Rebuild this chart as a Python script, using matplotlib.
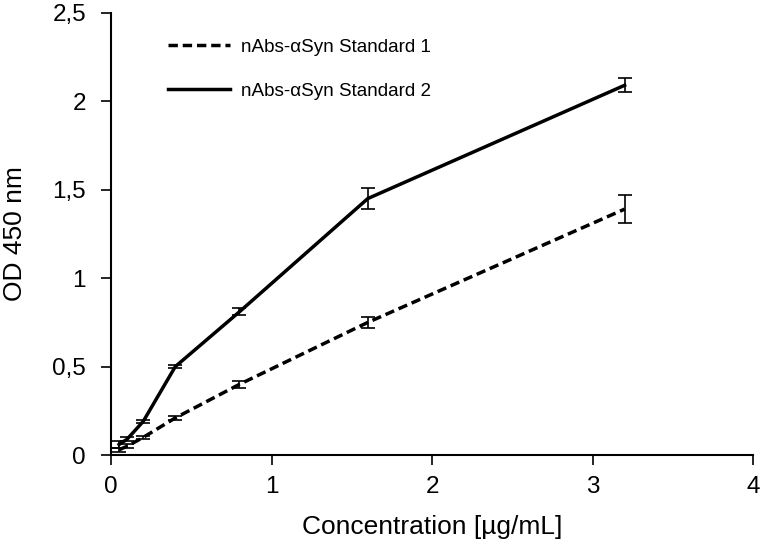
import matplotlib
matplotlib.use("Agg")
import matplotlib.pyplot as plt
from matplotlib.ticker import FuncFormatter
from matplotlib.lines import Line2D

plt.rcParams['font.family'] = ['Liberation Sans', 'DejaVu Sans']

conc = [0.05, 0.1, 0.2, 0.4, 0.8, 1.6, 3.2]
std1 = [0.03, 0.05, 0.10, 0.21, 0.40, 0.75, 1.39]
std1_err = [0.01, 0.01, 0.01, 0.01, 0.02, 0.03, 0.08]
std2 = [0.06, 0.09, 0.19, 0.50, 0.81, 1.45, 2.09]
std2_err = [0.02, 0.01, 0.01, 0.01, 0.02, 0.06, 0.04]
labels = ['nAbs-αSyn Standard 1', 'nAbs-αSyn Standard 2']

fig = plt.figure(figsize=(7.66, 5.55), dpi=100)
ax = fig.add_axes([0.145, 0.180, 0.838, 0.797])

dash = (0, (2.7, 1.4))
ax.errorbar(conc, std1, yerr=std1_err, color='black', lw=2.5, ls=dash,
            ecolor='black', elinewidth=1.2, capsize=5, capthick=1.2)
ax.errorbar(conc, std2, yerr=std2_err, color='black', lw=2.5, ls='-',
            ecolor='black', elinewidth=1.2, capsize=5, capthick=1.2)

ax.set_xlim(0, 4)
ax.set_ylim(0, 2.5)
ax.set_xticks([0, 1, 2, 3, 4])
ax.set_yticks([0, 0.5, 1, 1.5, 2, 2.5])
fmt = FuncFormatter(lambda v, p: ('%g' % v).replace('.', ','))
ax.xaxis.set_major_formatter(fmt)
ax.yaxis.set_major_formatter(fmt)
ax.spines['top'].set_visible(False)
ax.spines['right'].set_visible(False)
ax.spines['left'].set_linewidth(1.5)
ax.spines['bottom'].set_linewidth(1.5)
ax.tick_params(axis='both', labelsize=17.5, width=1.2, length=7, direction='out')
ax.tick_params(axis='y', pad=11)
ax.tick_params(axis='x', pad=8)
ax.set_xlabel('Concentration [µg/mL]', fontsize=19, labelpad=12)
ax.set_ylabel('OD 450 nm', fontsize=19, labelpad=18)

h = [Line2D([], [], color='black', lw=2.5, ls=dash),
     Line2D([], [], color='black', lw=2.5, ls='-')]
ax.legend(h, labels, loc='upper left', bbox_to_anchor=(0.062, 0.98), frameon=False,
          fontsize=13.6, handlelength=3.3, labelspacing=1.42, handletextpad=0.55)

fig.savefig('out.png', dpi=100)
